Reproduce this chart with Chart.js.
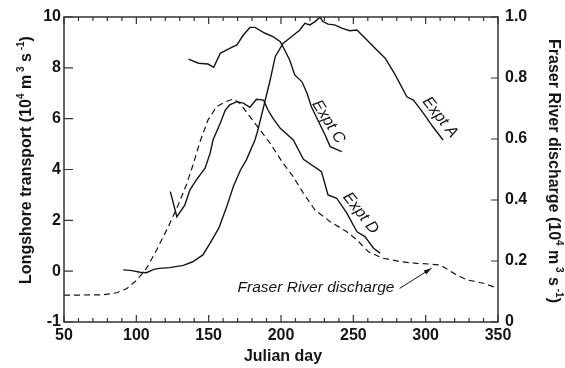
<!DOCTYPE html>
<html>
<head>
<meta charset="utf-8">
<script src="https://cdn.jsdelivr.net/npm/chart.js@4"></script>
<style>
  html, body { margin: 0; padding: 0; background: #fff; }
</style>
</head>
<body>
<canvas id="grafico" width="565" height="368"></canvas>
<script>
// Datos (dia juliano / valor)
const exptADays = [91, 97, 102.5, 107, 112, 116, 123, 132.5, 139, 146, 151, 157, 162.5, 167, 172, 176, 182, 184, 188, 192.5, 196, 201.5, 207.5, 213, 216.5, 220, 223.5, 227, 229, 232.5, 237, 242, 247.5, 252.5, 257, 264, 272, 279, 287, 291.5, 298.5, 305, 312]
const exptAValues = [0.05, 0.02, -0.04, -0.06, 0.07, 0.11, 0.14, 0.23, 0.37, 0.64, 1.10, 1.69, 2.54, 3.32, 3.98, 4.37, 5.16, 5.55, 6.47, 7.52, 8.44, 8.97, 9.23, 9.49, 9.75, 9.69, 9.82, 9.99, 9.82, 9.72, 9.69, 9.56, 9.46, 9.49, 9.23, 8.83, 8.38, 7.72, 6.86, 6.73, 6.21, 5.68, 5.16]

const exptCDays = [136, 143, 149.5, 153.5, 158, 164.5, 169.5, 174, 178.5, 182, 189, 194.5, 199.5, 201.5, 206, 209.5, 214.5, 218, 221, 226, 230.5, 234, 242]
const exptCValues = [8.34, 8.18, 8.15, 8.02, 8.57, 8.77, 8.90, 9.29, 9.59, 9.59, 9.36, 9.23, 9.03, 8.82, 8.31, 7.72, 7.45, 7.0, 6.47, 5.88, 5.36, 4.90, 4.70]

const exptDDays = [123.5, 128, 133.5, 137, 141.5, 147.5, 151, 153, 158, 161.5, 164.5, 169.5, 174, 178.5, 183, 188, 191, 194.5, 199.5, 208.5, 215.5, 228, 232.5, 238.5, 245.5, 252.5, 258, 264, 268.5]
const exptDValues = [3.13, 2.14, 2.60, 3.19, 3.59, 4.05, 4.64, 5.16, 5.82, 6.34, 6.54, 6.67, 6.61, 6.45, 6.76, 6.73, 6.34, 6.01, 5.62, 5.16, 4.40, 3.91, 3.00, 2.87, 2.28, 1.55, 1.36, 0.90, 0.71]

const fraserDays = [50, 77, 86.5, 93.5, 100.5, 107, 114, 121, 128, 135, 139.5, 144, 149.5, 155.5, 161.5, 167, 171.5, 178.5, 185.5, 192.5, 201.5, 208.5, 215.5, 223.5, 234, 245.5, 252.5, 260.5, 270.5, 282.5, 294, 303, 310, 320.5, 328.5, 340, 350]
const fraserValues = [0.088, 0.089, 0.096, 0.110, 0.138, 0.176, 0.236, 0.302, 0.373, 0.455, 0.520, 0.591, 0.662, 0.706, 0.722, 0.731, 0.717, 0.673, 0.630, 0.586, 0.520, 0.476, 0.422, 0.367, 0.329, 0.296, 0.269, 0.230, 0.209, 0.198, 0.192, 0.190, 0.187, 0.157, 0.138, 0.127, 0.110]

// Etiquetas de los ejes
const xTickValues = [50, 100, 150, 200, 250, 300, 350]
const leftTickValues = [-2, 0, 2, 4, 6, 8, 10]
const leftTickLabels = ['-1', '0', '2', '4', '6', '8', '10']
const rightTickValues = [0, 0.2, 0.4, 0.6, 0.8, 1]
const rightTickLabels = ['0', '0.2', '0.4', '0.6', '0.8', '1.0']

// Textos sobre las curvas: [texto, dia, valor, angulo en grados]
const curveLabels = [
  ['Expt C', 232.7, 5.88, 58],
  ['Expt A', 309.9, 6.05, 52],
  ['Expt D', 255.1, 2.28, 52]
]
const fraserLabel = ['Fraser River discharge', 224.2, 0.111]
const fraserArrow = { from: [282, 0.11], to: [304, 0.176] }

const INK = '#151515'
const FONT = "'Liberation Sans', Arial, sans-serif"

const toPoints = (days, values) => days.map((d, i) => ({ x: d, y: values[i] }))

// Texto con superindices (para las unidades)
const drawRich = (ctx, parts, x, y, angle) => {
  ctx.save()
  ctx.translate(x, y)
  ctx.rotate(angle)
  ctx.fillStyle = INK
  ctx.textBaseline = 'middle'
  ctx.textAlign = 'left'
  let total = 0
  const widths = parts.map(p => {
    ctx.font = p.sup ? `bold 10px ${FONT}` : `bold 16px ${FONT}`
    const w = ctx.measureText(p.t).width
    total += w
    return w
  })
  let cx = -total / 2
  parts.forEach((p, i) => {
    ctx.font = p.sup ? `bold 10px ${FONT}` : `bold 16px ${FONT}`
    ctx.fillText(p.t, cx, p.sup ? -6 : 0)
    cx += widths[i]
  })
  ctx.restore()
}

const unitParts = [
  { t: '(10' }, { t: '4', sup: true }, { t: ' m' }, { t: ' 3', sup: true },
  { t: ' s' }, { t: ' -1', sup: true }, { t: ')' }
]

const marcoPlugin = {
  id: 'marco',
  afterDraw(chart) {
    const { ctx, chartArea: a, scales } = chart
    ctx.save()
    ctx.strokeStyle = '#333'
    ctx.lineWidth = 1.5
    ctx.strokeRect(a.left, a.top, a.right - a.left, a.bottom - a.top)

    // marcas hacia adentro
    ctx.lineWidth = 1.2
    ctx.beginPath()
    for (let d = 50; d <= 350; d += 10) {
      const x = scales.x.getPixelForValue(d)
      const len = d % 50 === 0 ? 7 : 4
      ctx.moveTo(x, a.bottom); ctx.lineTo(x, a.bottom - len)
      ctx.moveTo(x, a.top); ctx.lineTo(x, a.top + len)
    }
    for (const v of leftTickValues) {
      const y = scales.y.getPixelForValue(v)
      ctx.moveTo(a.left, y); ctx.lineTo(a.left + 9, y)
    }
    for (const v of rightTickValues) {
      const y = scales.y1.getPixelForValue(v)
      ctx.moveTo(a.right, y); ctx.lineTo(a.right - 7, y)
    }
    ctx.stroke()

    // titulos de ejes
    ctx.fillStyle = INK
    ctx.font = `bold 16px ${FONT}`
    ctx.textAlign = 'center'
    ctx.textBaseline = 'middle'
    ctx.fillText('Julian day', (a.left + a.right) / 2 + 2, 357)
    drawRich(ctx, [{ t: 'Longshore transport ' }, ...unitParts], 27, 160, -Math.PI / 2)
    drawRich(ctx, [{ t: 'Fraser River discharge ' }, ...unitParts], 553, 171, Math.PI / 2)

    // textos de las curvas
    ctx.font = `italic 16px ${FONT}`
    for (const [txt, d, v, ang] of curveLabels) {
      ctx.save()
      ctx.translate(scales.x.getPixelForValue(d), scales.y.getPixelForValue(v))
      ctx.rotate(ang * Math.PI / 180)
      ctx.fillText(txt, 0, 0)
      ctx.restore()
    }
    ctx.font = `italic 15.5px ${FONT}`
    ctx.fillText(fraserLabel[0], scales.x.getPixelForValue(fraserLabel[1]), scales.y1.getPixelForValue(fraserLabel[2]))

    // flecha
    const x0 = scales.x.getPixelForValue(fraserArrow.from[0])
    const y0 = scales.y1.getPixelForValue(fraserArrow.from[1])
    const x1 = scales.x.getPixelForValue(fraserArrow.to[0])
    const y1 = scales.y1.getPixelForValue(fraserArrow.to[1])
    const ang = Math.atan2(y1 - y0, x1 - x0)
    ctx.strokeStyle = INK
    ctx.lineWidth = 1
    ctx.beginPath()
    ctx.moveTo(x0, y0); ctx.lineTo(x1, y1)
    ctx.stroke()
    ctx.beginPath()
    ctx.moveTo(x1, y1)
    ctx.lineTo(x1 - 8 * Math.cos(ang - 0.3), y1 - 8 * Math.sin(ang - 0.3))
    ctx.lineTo(x1 - 8 * Math.cos(ang + 0.3), y1 - 8 * Math.sin(ang + 0.3))
    ctx.closePath()
    ctx.fill()
    ctx.restore()
  }
}

const lineStyle = {
  borderColor: INK,
  borderWidth: 1.4,
  pointRadius: 0,
  tension: 0,
  fill: false
}

new Chart(document.getElementById('grafico'), {
  type: 'line',
  data: {
    datasets: [
      { ...lineStyle, label: 'Expt A', data: toPoints(exptADays, exptAValues), yAxisID: 'y' },
      { ...lineStyle, label: 'Expt C', data: toPoints(exptCDays, exptCValues), yAxisID: 'y' },
      { ...lineStyle, label: 'Expt D', data: toPoints(exptDDays, exptDValues), yAxisID: 'y' },
      { ...lineStyle, label: 'Fraser River discharge', data: toPoints(fraserDays, fraserValues), yAxisID: 'y1', borderDash: [6, 4], borderWidth: 1.2 }
    ]
  },
  options: {
    responsive: false,
    animation: false,
    events: [],
    layout: { padding: { top: 17, left: 0, right: 0, bottom: 0 } },
    plugins: { legend: { display: false }, tooltip: { enabled: false } },
    scales: {
      x: {
        type: 'linear',
        min: 50,
        max: 350,
        grid: { display: false, drawTicks: false },
        border: { display: false },
        afterBuildTicks: (s) => { s.ticks = xTickValues.map(v => ({ value: v })) },
        afterFit: (s) => { s.height = 46 },
        ticks: { color: INK, font: { family: FONT, size: 16, weight: 'bold' }, padding: 4, maxRotation: 0, autoSkip: false }
      },
      y: {
        position: 'left',
        min: -2,
        max: 10,
        grid: { display: false, drawTicks: false },
        border: { display: false },
        afterBuildTicks: (s) => { s.ticks = leftTickValues.map(v => ({ value: v })) },
        afterFit: (s) => { s.width = 64 },
        ticks: {
          color: INK, font: { family: FONT, size: 16, weight: 'bold' }, padding: 3,
          callback: (v) => leftTickLabels[leftTickValues.indexOf(v)]
        }
      },
      y1: {
        position: 'right',
        min: 0,
        max: 1,
        grid: { display: false, drawTicks: false },
        border: { display: false },
        afterBuildTicks: (s) => { s.ticks = rightTickValues.map(v => ({ value: v })) },
        afterFit: (s) => { s.width = 67 },
        ticks: {
          color: INK, font: { family: FONT, size: 16, weight: 'bold' }, padding: 7,
          callback: (v) => rightTickLabels[rightTickValues.indexOf(v)]
        }
      }
    }
  },
  plugins: [marcoPlugin]
})
</script>
</body>
</html>
